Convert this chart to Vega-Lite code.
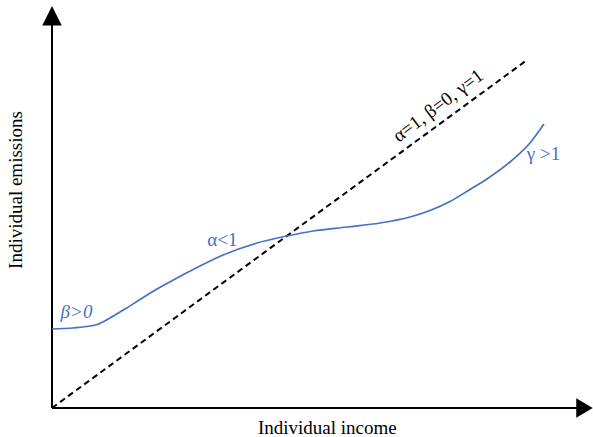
{
  "$schema": "https://vega.github.io/schema/vega-lite/v6.json",
  "width": 541,
  "height": 400,
  "padding": {"left": 52, "top": 8, "right": 0, "bottom": 29},
  "autosize": {"type": "none"},
  "background": "white",
  "config": {"view": {"stroke": null}, "text": {"font": "Liberation Serif"}},
  "datasets": {
    "emissions": [
      {"income": 0, "emissions": 19.75},
      {"income": 3.88, "emissions": 20.0},
      {"income": 8.32, "emissions": 20.875},
      {"income": 10.72, "emissions": 22.5},
      {"income": 13.49, "emissions": 24.75},
      {"income": 16.27, "emissions": 27.125},
      {"income": 19.41, "emissions": 29.75},
      {"income": 23.11, "emissions": 32.5},
      {"income": 27.36, "emissions": 35.5},
      {"income": 31.61, "emissions": 38.25},
      {"income": 37.89, "emissions": 41.25},
      {"income": 43.44, "emissions": 43.0},
      {"income": 48.24, "emissions": 44.25},
      {"income": 54.53, "emissions": 45.25},
      {"income": 60.63, "emissions": 46.25},
      {"income": 66.17, "emissions": 47.75},
      {"income": 69.87, "emissions": 49.375},
      {"income": 73.57, "emissions": 51.625},
      {"income": 77.26, "emissions": 54.625},
      {"income": 80.41, "emissions": 57.25},
      {"income": 84.66, "emissions": 61.5},
      {"income": 88.35, "emissions": 66.25},
      {"income": 90.94, "emissions": 71.0}
    ],
    "proportional": [
      {"income": 0, "emissions": 0},
      {"income": 87.8, "emissions": 87.0}
    ],
    "axes": [
      {"income": 0, "emissions": 0, "income2": 0, "emissions2": 96},
      {"income": 0, "emissions": 0, "income2": 97.2, "emissions2": 0}
    ],
    "arrows": [
      {"income": 0, "emissions": 98.05, "axis": "vertical"},
      {"income": 98.34, "emissions": 0, "axis": "horizontal"}
    ]
  },
  "encoding": {
    "x": {"field": "income", "type": "quantitative", "axis": null, "scale": {"domain": [0, 100], "nice": false, "zero": false}},
    "y": {"field": "emissions", "type": "quantitative", "axis": null, "scale": {"domain": [0, 100], "nice": false, "zero": false}}
  },
  "layer": [
    {
      "data": {"name": "axes"},
      "mark": {"type": "rule", "color": "black", "strokeWidth": 2},
      "encoding": {
        "x2": {"field": "income2"},
        "y2": {"field": "emissions2"}
      }
    },
    {
      "data": {"name": "arrows"},
      "mark": {"type": "point", "filled": true, "color": "black", "opacity": 1, "strokeWidth": 0, "size": 380},
      "encoding": {
        "shape": {
          "field": "axis",
          "type": "nominal",
          "legend": null,
          "scale": {
            "domain": ["vertical", "horizontal"],
            "range": ["M0,-1L1,1L-1,1Z", "M0.9,0L-0.8,-1L-0.8,1Z"]
          }
        }
      }
    },
    {
      "data": {"name": "proportional"},
      "mark": {"type": "line", "color": "black", "strokeWidth": 2, "strokeDash": [6, 4]}
    },
    {
      "data": {"name": "emissions"},
      "mark": {"type": "line", "color": "#4472C4", "strokeWidth": 1.7, "interpolate": "monotone"}
    },
    {
      "data": {"values": [{"income": 4.53, "emissions": 24.1, "label": "β>0"}]},
      "mark": {"type": "text", "color": "#4472C4", "fontSize": 19, "fontStyle": "italic", "align": "center", "baseline": "middle"},
      "encoding": {"text": {"field": "label"}}
    },
    {
      "data": {"values": [{"income": 31.5, "emissions": 42.0, "label": "α<1"}, {"income": 90.85, "emissions": 63.6, "label": "γ >1"}]},
      "mark": {"type": "text", "color": "#4472C4", "fontSize": 19, "align": "center", "baseline": "middle"},
      "encoding": {"text": {"field": "label"}}
    },
    {
      "data": {"values": [{"income": 71.35, "emissions": 75.6, "label": "α=1, β=0, γ=1"}]},
      "mark": {"type": "text", "color": "black", "fontSize": 19, "angle": 323, "align": "center", "baseline": "middle"},
      "encoding": {"text": {"field": "label"}}
    },
    {
      "data": {"values": [{"income": 50.9, "emissions": -6.5, "label": "Individual income"}]},
      "mark": {"type": "text", "color": "black", "fontSize": 19, "align": "center", "baseline": "alphabetic"},
      "encoding": {"text": {"field": "label"}}
    },
    {
      "data": {"values": [{"income": -6.7, "emissions": 54.5, "label": "Individual emissions"}]},
      "mark": {"type": "text", "color": "black", "fontSize": 19, "angle": 270, "align": "center", "baseline": "middle"},
      "encoding": {"text": {"field": "label"}}
    }
  ]
}
